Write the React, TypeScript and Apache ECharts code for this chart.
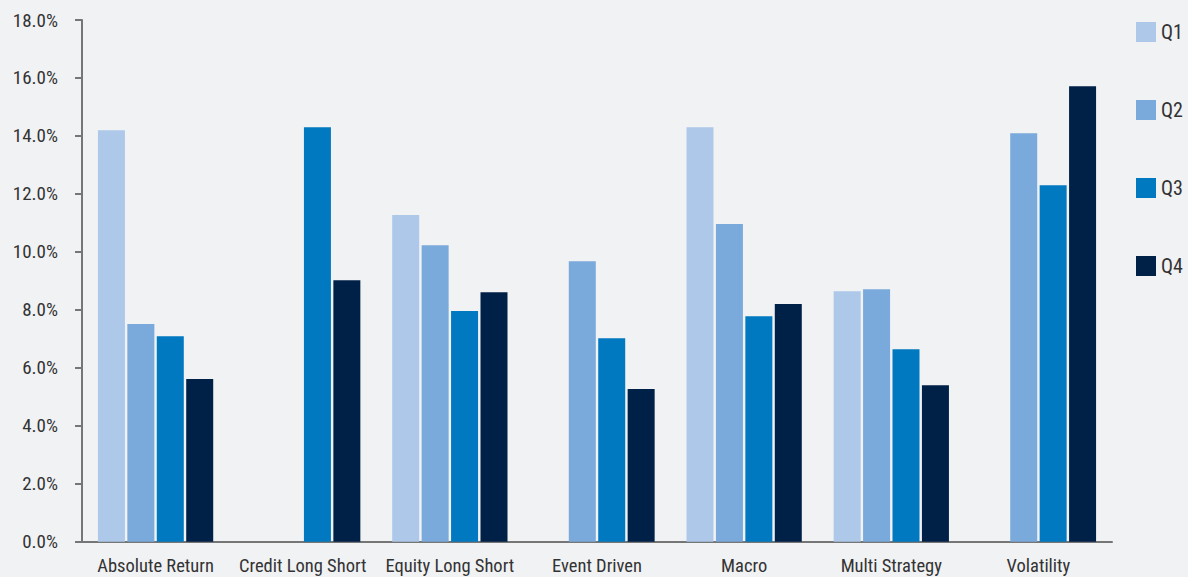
import React, { useEffect, useRef } from "react";
import * as echarts from "echarts";

// Hedge fund strategy returns by quarter (percent)
const categories = [
  "Absolute Return",
  "Credit Long Short",
  "Equity Long Short",
  "Event Driven",
  "Macro",
  "Multi Strategy",
  "Volatility",
];
const seriesNames = ["Q1", "Q2", "Q3", "Q4"];
const q1 = [14.2, null, 11.27, null, 14.3, 8.64, null];
const q2 = [7.51, null, 10.23, 9.68, 10.96, 8.71, 14.09];
const q3 = [7.09, 14.3, 7.96, 7.02, 7.78, 6.64, 12.3];
const q4 = [5.61, 9.02, 8.61, 5.27, 8.2, 5.4, 15.71];
const colors = ["#adc8e9", "#7aaadb", "#0079c1", "#002147"];

const FONT = "'Roboto Condensed', 'Liberation Sans Narrow', Roboto, sans-serif";

export default function App() {
  const ref = useRef<HTMLDivElement>(null);

  useEffect(() => {
    document.body.style.margin = "0";
    if (!ref.current) return;
    const chart = echarts.init(ref.current, null, { renderer: "svg" });
    const values = [q1, q2, q3, q4];
    chart.setOption({
      animation: false,
      backgroundColor: "#f1f2f4",
      color: colors,
      textStyle: { fontFamily: FONT },
      grid: { left: 82, right: 76, top: 20, bottom: 35.3, containLabel: false },
      legend: {
        orient: "vertical",
        left: 1136,
        top: 22,
        padding: 0,
        itemWidth: 20,
        itemHeight: 20,
        itemGap: 58,
        icon: "rect",
        textStyle: { fontFamily: FONT, fontSize: 20, color: "#333" },
        data: seriesNames,
      },
      xAxis: {
        type: "category",
        data: categories,
        axisTick: { show: false },
        axisLine: { lineStyle: { color: "#767676", width: 2 } },
        axisLabel: { fontFamily: FONT, fontSize: 18.5, color: "#333", margin: 15, interval: 0 },
      },
      yAxis: {
        type: "value",
        min: 0,
        max: 18,
        interval: 2,
        splitLine: { show: false },
        axisLine: { show: true, lineStyle: { color: "#767676", width: 2 } },
        axisTick: { show: true, length: 7, lineStyle: { color: "#767676", width: 2 } },
        axisLabel: {
          fontFamily: FONT,
          fontSize: 19,
          color: "#333",
          margin: 24,
          formatter: (v: number) => v.toFixed(1) + "%",
        },
      },
      series: seriesNames.map((name, i) => ({
        name,
        type: "bar",
        data: values[i],
        barWidth: 27,
        barGap: "9%",
        itemStyle: { color: colors[i] },
      })),
    });
    return () => chart.dispose();
  }, []);

  return <div ref={ref} style={{ width: 1188, height: 577 }} />;
}
